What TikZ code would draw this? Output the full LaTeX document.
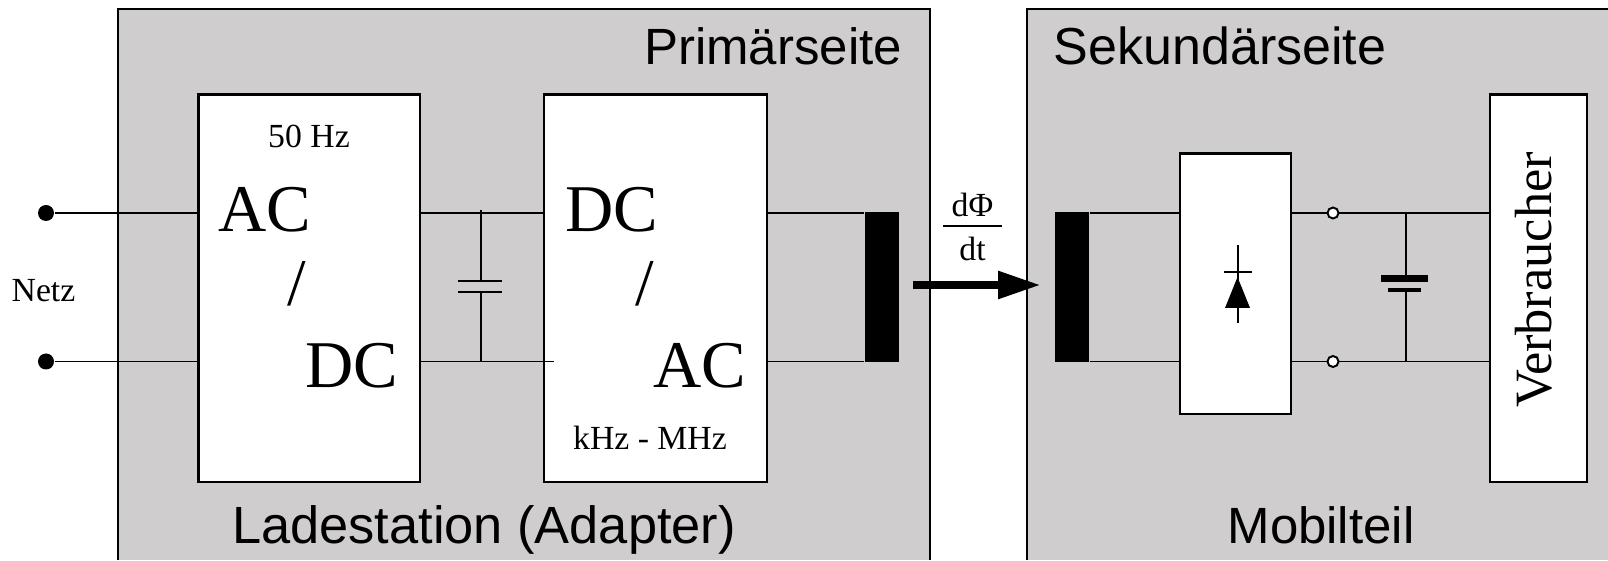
\documentclass[tikz,border=0pt]{standalone}
\usepackage{fontspec}
\setmainfont{Liberation Serif}
\setsansfont{Liberation Sans}
\usetikzlibrary{arrows.meta}
\definecolor{panelgray}{HTML}{CFCDCE}
\tikzset{
  wire/.style={line width=0.55pt},
  block/.style={draw, line width=0.7pt, fill=white, inner sep=0pt},
  coil/.style={fill=black, inner sep=0pt, minimum width=0.34cm, minimum height=1.505cm},
  bigtext/.style={inner sep=0pt, font=\fontsize{19}{20}\selectfont},
  smalltext/.style={inner sep=0pt, font=\fontsize{9.6}{11}\selectfont},
  sidetext/.style={inner sep=0pt, anchor=base, font=\sffamily\fontsize{14.5}{17}\selectfont},
  pin/.style={circle, fill=black, inner sep=0pt, minimum size=0.16cm},
  terminal/.style={circle, draw, fill=white, line width=0.55pt, inner sep=0pt, minimum size=0.11cm},
}
\begin{document}
\begin{tikzpicture}[scale=1]
  \useasboundingbox (0,0) rectangle (16.08,5.6);

  % flaechen
  \fill[panelgray] (1.18,0) rectangle (9.30,5.51);
  \fill[panelgray] (10.27,0) rectangle (16.08,5.51);
  \draw[line width=0.8pt] (1.18,0) |- (9.30,5.51) -- (9.30,0);
  \draw[line width=0.8pt] (10.27,0) |- (16.08,5.51);

  % bloecke
  \node[block, minimum width=2.215cm, minimum height=3.874cm] (acdc) at (3.0925,2.717) {};
  \node[block, minimum width=2.23cm, minimum height=3.874cm] (dcac) at (6.555,2.717) {};
  \node[block, minimum width=1.11cm, minimum height=2.605cm] (rect) at (12.355,2.7625) {};
  \node[block, minimum width=0.97cm, minimum height=3.874cm] (load) at (15.385,2.717) {};
  \node[coil] (coilp) at (8.82,2.7275) {};
  \node[coil] (coils) at (10.72,2.7275) {};

  % netzanschluss
  \node[pin] (netza) at (0.46,3.47) {};
  \node[pin] (netzb) at (0.46,1.985) {};
  \coordinate (stub) at (5.54,1.985);

  % leitungen
  \draw[wire] (netza) -- (netza -| acdc.west);
  \draw[wire] (netzb) -- (netzb -| acdc.west);
  \draw[wire] (netza -| acdc.east) -- (netza -| dcac.west);
  \draw[wire] (netzb -| acdc.east) -- (stub);
  \draw[wire] (netza -| dcac.east) -- (netza -| coilp.west);
  \draw[wire] (netzb -| dcac.east) -- (netzb -| coilp.west);
  \draw[wire] (netza -| coils.east) -- (netza -| rect.west);
  \draw[wire] (netzb -| coils.east) -- (netzb -| rect.west);
  \draw[wire] (netza -| rect.east) -- (netza -| load.west);
  \draw[wire] (netzb -| rect.east) -- (netzb -| load.west);

  % kondensator primaer
  \draw[wire] (4.81,3.50) -- (4.81,2.79);
  \draw[wire] (4.81,2.68) -- (4.81,1.985);
  \foreach \y in {2.79,2.68}
    \draw[wire] (4.58,\y) -- (5.02,\y);

  % kondensator sekundaer
  \draw[wire] (14.06,3.47) -- (14.06,2.815);
  \draw[wire] (14.06,2.70) -- (14.06,1.985);
  \draw[line width=2pt] (13.81,2.815) -- (14.28,2.815);
  \draw[line width=1.1pt] (13.88,2.70) -- (14.21,2.70);

  % anschluesse
  \node[terminal] (terma) at (13.33,3.47) {};
  \node[terminal] (termb) at (13.33,1.985) {};

  % diode
  \draw[wire] (12.38,3.15) -- (12.38,2.37);
  \draw[wire] (12.236,2.88) -- (12.52,2.88);
  \fill (12.25,2.52) -- (12.50,2.52) -- (12.375,2.83) -- cycle;

  % pfeil
  \coordinate (fluxa) at (9.13,2.75);
  \coordinate (fluxb) at (10.41,2.75);
  \draw[line width=2.4pt, -{Triangle[length=0.43cm, width=0.26cm]}] (fluxa) -- (fluxb);

  % dphi/dt
  \node[smalltext] (dphi) at (9.725,3.55) {dΦ};
  \node[smalltext] (dtime) at (9.725,3.11) {dt};
  \coordinate (fraca) at (9.43,3.34);
  \coordinate (fracb) at (10.02,3.34);
  \draw[wire] (fraca) -- (fracb);

  % texte
  \node[smalltext] (netz) at (0.435,2.69) {Netz};
  \node[smalltext] (fnetz) at (3.09,4.24) {50 Hz};
  \node[smalltext] (fhigh) at (6.50,1.22) {kHz - MHz};
  \node[bigtext] (aca) at (2.65,3.505) {AC};
  \node[bigtext] (slasha) at (2.97,2.76) {/};
  \node[bigtext] (dca) at (3.52,1.94) {DC};
  \node[bigtext] (dcb) at (6.12,3.505) {DC};
  \node[bigtext] (slashb) at (6.45,2.76) {/};
  \node[bigtext] (acb) at (7.00,1.94) {AC};
  \node[inner sep=0pt, rotate=90, font=\fontsize{14.9}{17}\selectfont] (verb) at (15.34,2.80) {Verbraucher};
  \node[sidetext] (prim) at (7.73,4.95) {Primärseite};
  \node[sidetext, font=\sffamily\fontsize{14.8}{17}\selectfont] (sek) at (12.20,4.95) {Sekundärseite};
  \node[sidetext, font=\sffamily\fontsize{14.9}{17}\selectfont] (lade) at (4.84,0.16) {Ladestation (Adapter)};
  \node[sidetext] (mobil) at (13.21,0.16) {Mobilteil};
\end{tikzpicture}
\end{document}
